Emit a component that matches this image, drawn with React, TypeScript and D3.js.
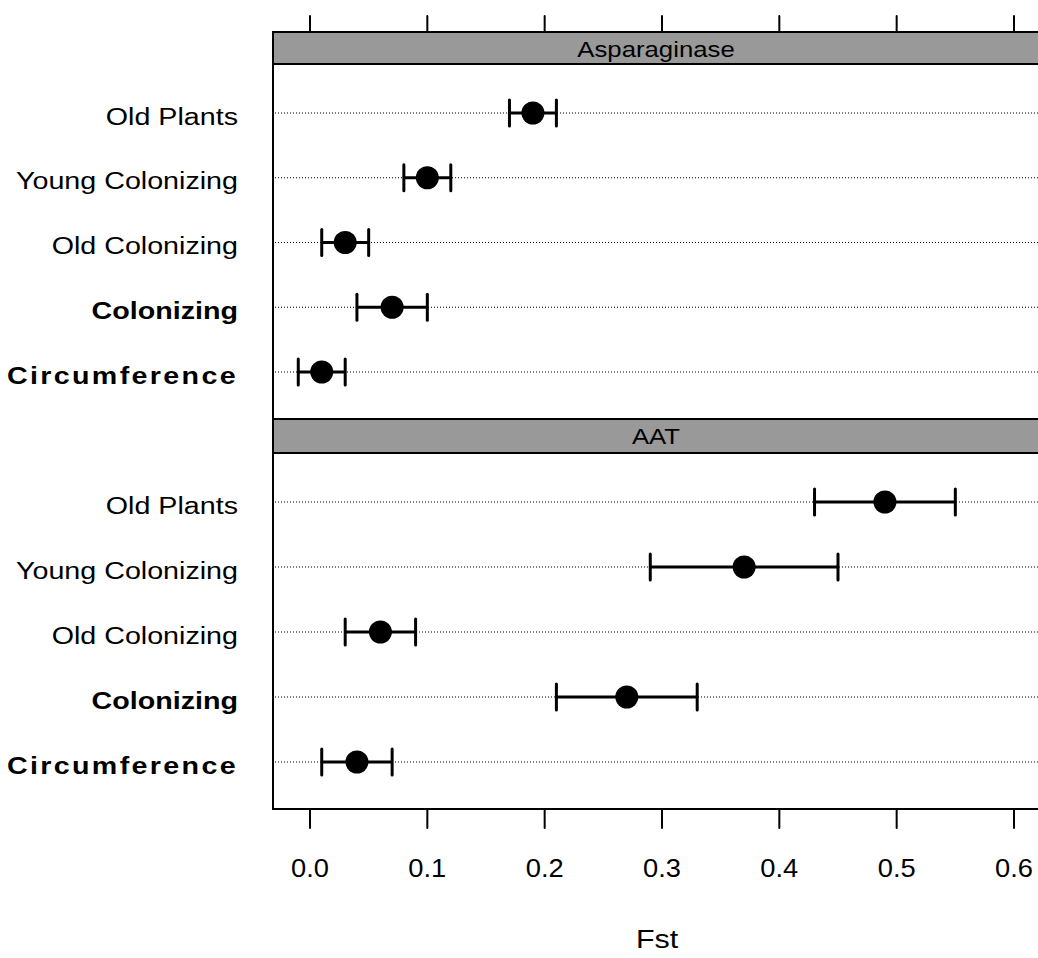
import React from "react";
import * as d3 from "d3";

const categories = ["Old Plants", "Young Colonizing", "Old Colonizing", "Colonizing", "Circumference"];
const boldCats = ["Colonizing", "Circumference"];
const panels = ["Asparaginase", "AAT"];
const asparaginaseFst = [0.19, 0.10, 0.03, 0.07, 0.01];
const asparaginaseLow = [0.17, 0.08, 0.01, 0.04, -0.01];
const asparaginaseHigh = [0.21, 0.12, 0.05, 0.10, 0.03];
const aatFst = [0.49, 0.37, 0.06, 0.27, 0.04];
const aatLow = [0.43, 0.29, 0.03, 0.21, 0.01];
const aatHigh = [0.55, 0.45, 0.09, 0.33, 0.07];
const xTicks = [0.0, 0.1, 0.2, 0.3, 0.4, 0.5, 0.6];
const xLabel = "Fst";

const SX = 1.17;

function T(props: { x: number; y: number; size: number; anchor?: string; bold?: boolean; sx?: number; ls?: number; children: React.ReactNode }) {
  const sx = props.sx ?? SX;
  return (
    <text
      transform={`translate(${props.x},${props.y}) scale(${sx},1)`}
      fontSize={props.size}
      textAnchor={props.anchor ?? "middle"}
      fontWeight={props.bold ? "bold" : "normal"}
      letterSpacing={props.ls ?? 0}
      fill="#000"
    >
      {props.children}
    </text>
  );
}

export default function App() {
  const W = 1038, H = 958;
  const left = 273, right = 1041;
  const x = d3.scaleLinear().domain([0, 0.6]).range([310, 1014]);
  const font = "'Liberation Sans', Arial, sans-serif";
  const panelDefs = [
    { name: panels[0], stripTop: 32, bodyTop: 64, bodyBottom: 419, fst: asparaginaseFst, lo: asparaginaseLow, hi: asparaginaseHigh },
    { name: panels[1], stripTop: 419, bodyTop: 453, bodyBottom: 809, fst: aatFst, lo: aatLow, hi: aatHigh },
  ];
  return (
    <svg width={W} height={H} style={{ position: "absolute", left: 0, top: 0, background: "#fff" }} fontFamily={font}>
      {xTicks.map((t) => (
        <line key={"tt" + t} x1={x(t)} x2={x(t)} y1={16} y2={32} stroke="#000" strokeWidth={2} strokeLinecap="round" />
      ))}
      {xTicks.map((t) => (
        <g key={"bt" + t}>
          <line x1={x(t)} x2={x(t)} y1={809} y2={828} stroke="#000" strokeWidth={2} strokeLinecap="round" />
          <T x={x(t)} y={877} size={26} sx={1.05}>{t.toFixed(1)}</T>
        </g>
      ))}
      {panelDefs.map((p) => {
        const y = d3.scalePoint<string>().domain(categories).range([p.bodyTop + 49, p.bodyBottom - 47]);
        return (
          <g key={p.name}>
            <rect x={left} y={p.stripTop} width={right - left} height={p.bodyTop - p.stripTop} fill="#999999" stroke="#000" strokeWidth={2} />
            <T x={(left + right) / 2 - 1} y={p.stripTop + 24.5} size={22}>{p.name}</T>
            <rect x={left} y={p.bodyTop} width={right - left} height={p.bodyBottom - p.bodyTop} fill="none" stroke="#000" strokeWidth={2} />
            {categories.map((c, i) => {
              const yy = y(c)!;
              const bold = boldCats.includes(c);
              return (
                <g key={c}>
                  <line x1={left + 2} x2={right} y1={yy} y2={yy} stroke="#000" strokeWidth={1} strokeDasharray="1,2" />
                  <T x={238} y={yy + 11.5} size={24.5} anchor="end" bold={bold} ls={c === "Circumference" ? 2 : 0}>{c}</T>
                  <line x1={x(p.lo[i])} x2={x(p.hi[i])} y1={yy} y2={yy} stroke="#000" strokeWidth={3} />
                  <line x1={x(p.lo[i])} x2={x(p.lo[i])} y1={yy - 13} y2={yy + 13} stroke="#000" strokeWidth={3} strokeLinecap="round" />
                  <line x1={x(p.hi[i])} x2={x(p.hi[i])} y1={yy - 13} y2={yy + 13} stroke="#000" strokeWidth={3} strokeLinecap="round" />
                  <circle cx={x(p.fst[i])} cy={yy} r={11.5} fill="#000" />
                </g>
              );
            })}
          </g>
        );
      })}
      <T x={657} y={948} size={26}>{xLabel}</T>
    </svg>
  );
}
